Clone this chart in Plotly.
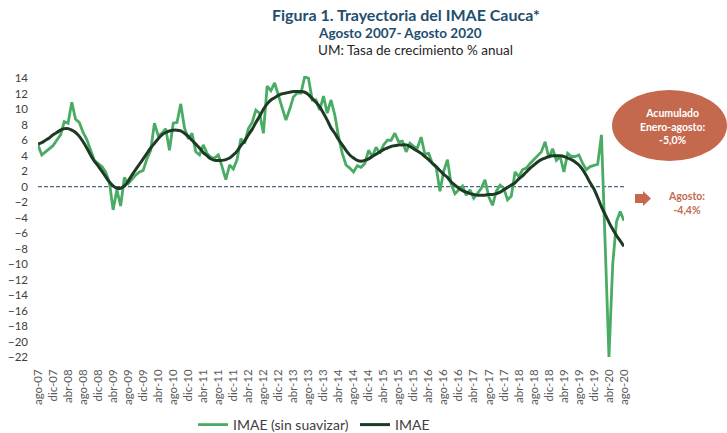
import plotly.graph_objects as go

# ---------------- data ----------------
month_abbr = ["ene", "feb", "mar", "abr", "may", "jun", "jul", "ago", "sep", "oct", "nov", "dic"]
categories = []
for yr in range(2007, 2021):
    for i, mo in enumerate(month_abbr):
        if (yr == 2007 and i < 7) or (yr == 2020 and i > 7):
            continue
        categories.append(f"{mo}-{str(yr)[2:]}")

tick_labels = [
    "ago-07", "dic-07", "abr-08", "ago-08", "dic-08", "abr-09", "ago-09", "dic-09",
    "abr-10", "ago-10", "dic-10", "abr-11", "ago-11", "dic-11", "abr-12", "ago-12",
    "dic-12", "abr-13", "ago-13", "dic-13", "abr-14", "ago-14", "dic-14", "abr-15",
    "ago-15", "dic-15", "abr-16", "ago-16", "dic-16", "abr-17", "ago-17", "dic-17",
    "abr-18", "ago-18", "dic-18", "abr-19", "ago-19", "dic-19", "abr-20", "ago-20",
]

imae_raw = [
    5.4, 4.1, 4.5, 4.9, 5.3, 6.0, 6.7, 8.4, 8.2, 10.9, 8.7, 8.3,
    7.0, 6.1, 4.6, 3.4, 3.0, 2.6, 1.9, 0.6, -3.0, -0.4, -2.5, 1.2,
    0.4, 1.0, 1.5, 1.9, 2.1, 3.6, 4.7, 8.2, 6.6, 6.9, 7.5, 4.7,
    8.2, 8.3, 10.7, 7.6, 6.2, 6.9, 4.5, 4.1, 5.4, 4.3, 3.8, 3.7,
    4.1, 2.6, 0.9, 2.8, 2.3, 3.5, 6.2, 5.6, 7.5, 8.3, 9.9, 9.5,
    6.9, 13.0, 12.4, 13.4, 11.8, 10.5, 8.6, 10.0, 11.6, 12.1, 12.1, 14.2,
    14.0, 11.2, 11.2, 9.9, 11.7, 9.5, 11.2, 9.3, 6.5, 4.3, 2.8, 2.4,
    1.9, 2.7, 2.5, 3.0, 4.7, 3.9, 5.1, 4.3, 5.4, 6.0, 6.0, 6.9,
    5.8, 5.9, 4.5, 5.6, 5.2, 5.0, 6.4, 4.2, 4.3, 3.0, 2.5, -0.6,
    2.0, 3.5, 0.3, -0.9, -0.4, 0.1, -1.1, -0.4, -1.5, -0.9, -0.2, 0.9,
    -1.3, -2.4, -0.6, 0.2, -0.2, -1.7, -1.2, 1.9, 1.3, 2.2, 2.4, 3.0,
    3.5, 3.9, 4.5, 5.8, 3.7, 4.9, 3.4, 3.9, 1.9, 4.3, 3.9, 3.9,
    4.1, 3.0, 2.2, 2.6, 2.8, 2.9, 6.7, -7.5, -22.0, -10.0, -4.5, -3.2,
    -4.4,
]

imae_trend = [
    5.5, 5.7, 6.0, 6.3, 6.7, 7.0, 7.3, 7.5, 7.5, 7.3, 7.0, 6.5,
    5.8, 5.0, 4.1, 3.3, 2.7, 2.0, 1.3, 0.6, 0.1, -0.2, -0.2, 0.1,
    0.7, 1.5, 2.2, 2.9, 3.6, 4.3, 5.0, 5.6, 6.2, 6.7, 7.0, 7.2,
    7.3, 7.3, 7.2, 6.9, 6.5, 6.0, 5.5, 5.0, 4.4, 4.0, 3.6, 3.4,
    3.4, 3.4, 3.5, 3.7, 4.1, 4.6, 5.3, 5.9, 6.7, 7.4, 8.3, 9.1,
    10.0, 10.7, 11.2, 11.5, 11.8, 12.0, 12.1, 12.2, 12.3, 12.3, 12.3, 12.2,
    11.9, 11.4, 10.9, 10.3, 9.5, 8.6, 7.6, 6.9, 6.1, 5.4, 4.7, 4.1,
    3.7, 3.4, 3.3, 3.4, 3.6, 3.9, 4.2, 4.5, 4.8, 5.0, 5.2, 5.3,
    5.4, 5.4, 5.4, 5.2, 4.9, 4.6, 4.3, 3.9, 3.5, 3.0, 2.6, 2.1,
    1.6, 1.2, 0.6, 0.2, -0.2, -0.5, -0.7, -0.9, -1.0, -1.1, -1.1, -1.1,
    -1.0, -1.0, -0.9, -0.7, -0.4, -0.1, 0.2, 0.5, 1.0, 1.4, 1.9, 2.4,
    2.8, 3.2, 3.5, 3.7, 3.9, 4.0, 4.0, 4.0, 3.9, 3.7, 3.5, 3.2,
    2.8, 2.2, 1.4, 0.5, -0.3, -1.4, -2.6, -3.6, -4.6, -5.5, -6.3, -7.0,
    -7.7,
]

y_ticks = [14, 12, 10, 8, 6, 4, 2, 0, -2, -4, -6, -8, -10, -12, -14, -16, -18, -20, -22]

# ---------------- layout helpers ----------------
W, H = 727, 433
L, R, T, B = 38, 624, 76, 357  # plot area in pixels


def px(x):
    return (x - L) / (R - L)


def py(y):
    return (B - y) / (B - T)


FONT = "Lato"
TITLE_COL = "#1F4E6E"
ACCENT = "#C4694E"

fig = go.Figure()
fig.add_trace(go.Scatter(
    x=categories, y=imae_raw, mode="lines", name="IMAE (sin suavizar)",
    line=dict(color="#4AAB64", width=2.8),
))
fig.add_trace(go.Scatter(
    x=categories, y=imae_trend, mode="lines", name="IMAE",
    line=dict(color="#1E3A24", width=3, shape="spline", smoothing=0.6),
))

fig.add_shape(type="line", xref="paper", yref="y", x0=0, x1=1, y0=0, y1=0,
              line=dict(color="#4A6680", width=1.2, dash="4px,2px"), layer="below")

# ellipse annotation
fig.add_shape(type="circle", xref="paper", yref="paper",
              x0=px(612), x1=px(727), y0=py(161), y1=py(90),
              fillcolor=ACCENT, line=dict(width=0), layer="above")
fig.add_annotation(xref="paper", yref="paper", x=px(672), y=py(126),
                   xanchor="center", yanchor="middle",
                   text="<b>Acumulado<br>Enero-agosto:<br>-5,0%</b>",
                   showarrow=False, font=dict(family=FONT, size=10.5, color="white"),
                   align="center")
# arrow shape
ax0, ax1, ax2 = 635, 643, 651
ay0, ay1 = 191, 206
fig.add_shape(type="path", xref="paper", yref="paper",
              path=(f"M {px(ax0)} {py(ay0+3)} L {px(ax1)} {py(ay0+3)} L {px(ax1)} {py(ay0)} "
                    f"L {px(ax2)} {py((ay0+ay1)/2)} L {px(ax1)} {py(ay1)} L {px(ax1)} {py(ay1-3)} "
                    f"L {px(ax0)} {py(ay1-3)} Z"),
              fillcolor=ACCENT, line=dict(width=0))
fig.add_annotation(xref="paper", yref="paper", x=px(686), y=py(203),
                   xanchor="center", yanchor="middle",
                   text="<b>Agosto:<br>-4,4%</b>", showarrow=False,
                   font=dict(family=FONT, size=10.5, color=ACCENT), align="center")

# titles
fig.add_annotation(xref="paper", yref="paper", x=px(406), y=py(15),
                   xanchor="center", yanchor="middle",
                   text="<b>Figura 1. Trayectoria del IMAE Cauca*</b>", showarrow=False,
                   font=dict(family=FONT, size=16, color=TITLE_COL))
fig.add_annotation(xref="paper", yref="paper", x=px(400), y=py(32.5),
                   xanchor="center", yanchor="middle",
                   text="<b>Agosto 2007- Agosto 2020</b>", showarrow=False,
                   font=dict(family=FONT, size=13.5, color=TITLE_COL))
fig.add_annotation(xref="paper", yref="paper", x=px(415), y=py(49.5),
                   xanchor="center", yanchor="middle",
                   text="UM: Tasa de crecimiento % anual", showarrow=False,
                   font=dict(family=FONT, size=13.5, color="#262626"))

fig.update_layout(
    width=W, height=H,
    margin=dict(l=L, r=W - R, t=T, b=H - B, pad=0, autoexpand=False),
    paper_bgcolor="white", plot_bgcolor="white",
    showlegend=True,
    legend=dict(orientation="h", xref="container", yref="container",
                x=193 / W, xanchor="left", y=1 - 425 / H, yanchor="middle",
                font=dict(family=FONT, size=14, color="#404040"),
                entrywidth=117, entrywidthmode="pixels", bgcolor="rgba(0,0,0,0)"),
    font=dict(family=FONT),
)
fig.update_xaxes(
    type="category", range=[0, len(categories) - 1], tickmode="array",
    tickvals=tick_labels, ticktext=tick_labels, tickangle=-90,
    showgrid=False, zeroline=False, showline=False, ticks="",
    tickfont=dict(family=FONT, size=11.5, color="#595959"), ticklabelstandoff=9,
    automargin=False,
)
fig.update_yaxes(
    range=[-22, 14.3], tickmode="array", tickvals=y_ticks,
    showgrid=False, zeroline=False, showline=False, ticks="",
    tickfont=dict(family=FONT, size=11.5, color="#404040"), ticklabelstandoff=9,
    automargin=False,
)

fig.write_html(
    "out.html",
    config={"displayModeBar": False},
    post_script="document.body.style.margin='0px';document.body.style.overflow='hidden';",
)
